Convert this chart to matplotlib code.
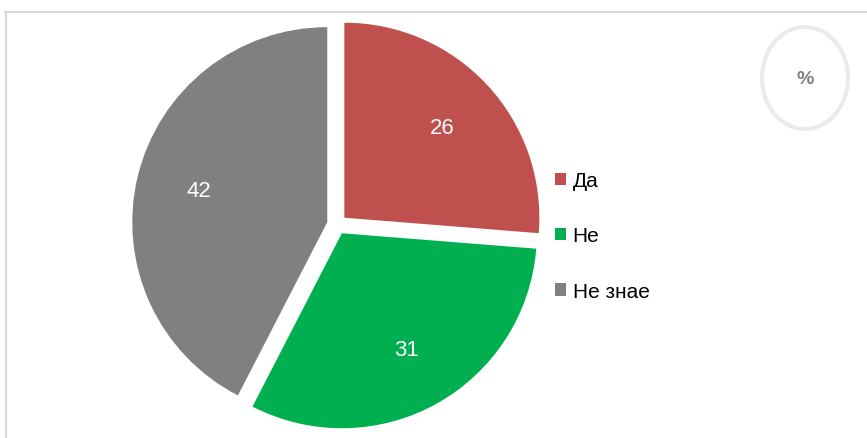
import matplotlib.pyplot as plt
from matplotlib.patches import Ellipse
from matplotlib.lines import Line2D

# Data
labels = ['Да', 'Не', 'Не знае']
values = [26, 31, 42]
colors = ['#C0504D', '#00B050', '#808080']

plt.rcParams['font.family'] = ['Liberation Sans', 'DejaVu Sans']

W, H = 867, 439
fig = plt.figure(figsize=(W / 100, H / 100), dpi=100)
ax = fig.add_axes([0, 0, 1, 1])

# outer frame (cut at right/bottom)
ax.add_line(Line2D([5, W], [H - 13, H - 13], color='#D9D9D9', lw=1.5))
ax.add_line(Line2D([6, 6], [0, H - 13], color='#D9D9D9', lw=1.5))

total = sum(values)
# explode is in data units (pixels here)
wedges, texts, autotexts = ax.pie(
    values, colors=colors, startangle=90, counterclock=False,
    center=(337, H - 225.5), radius=195, explode=[10] * 3,
    autopct=lambda p: f'{p * total / 100:.0f}', pctdistance=0.68,
    textprops=dict(color='white', fontsize=16),
    wedgeprops=dict(linewidth=0), frame=True)
ax.set_xlim(0, W)
ax.set_ylim(0, H)
ax.set_aspect('equal')
ax.axis('off')

leg = ax.legend(wedges, labels, loc='center left',
                bbox_to_anchor=(555 / W, 1 - 237 / H), frameon=False,
                fontsize=15, handlelength=0.55, handleheight=0.55,
                handletextpad=0.3, labelspacing=1.74,
                borderpad=0, borderaxespad=0)

# "%" badge
ax.add_patch(Ellipse((805, H - 79), 86, 102, fill=False,
                     edgecolor='#EBEBEB', lw=3))
ax.text(805, H - 79, '%', ha='center', va='center', fontsize=14,
        fontweight='bold', color='#7F7F7F')

fig.savefig('out.png', dpi=100)
